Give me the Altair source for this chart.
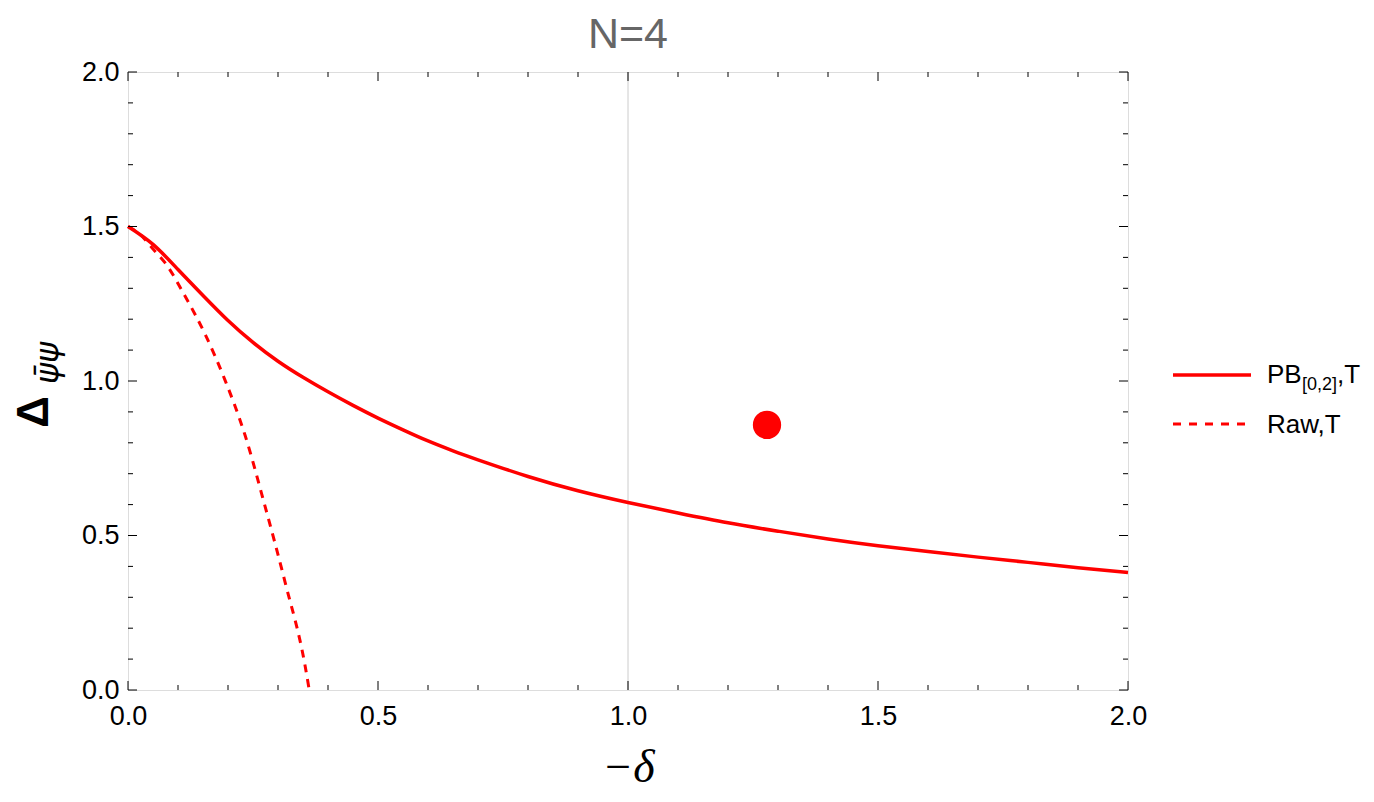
import altair as alt
import pandas as pd

# ---- data ----
pb_x = [0.0, 0.05, 0.1, 0.15, 0.2, 0.25, 0.3, 0.35, 0.4, 0.45, 0.5, 0.55, 0.6,
        0.65, 0.7, 0.8, 0.9, 1.0, 1.1, 1.2, 1.3, 1.4, 1.5, 1.6, 1.7, 1.8, 1.9, 2.0]
pb_y = [1.5, 1.442, 1.361, 1.277, 1.196, 1.125, 1.064, 1.012, 0.965, 0.921, 0.880,
        0.842, 0.806, 0.774, 0.745, 0.691, 0.645, 0.607, 0.573, 0.541, 0.514,
        0.489, 0.467, 0.448, 0.430, 0.413, 0.396, 0.380]

raw_x = [0.0, 0.02, 0.054, 0.074, 0.114, 0.154, 0.194, 0.234, 0.274, 0.314, 0.354, 0.3625]
raw_y = [1.5, 1.48, 1.42, 1.383, 1.275, 1.152, 1.003, 0.825, 0.595, 0.350, 0.080, 0.0]

point_x = [1.278]
point_y = [0.858]

grid_x = [1.0]

major_ticks = [0.0, 0.5, 1.0, 1.5, 2.0]
minor_ticks = [round(0.1 * i, 1) for i in range(21) if i % 5 != 0]

title_text = "N=4"
x_title = "\u2212\u03b4"
y_title_main = "\u0394"
y_title_sub = "\u03c8\u0304\u03c8"
legend_labels = ["PB", "[0,2]", ",T", "Raw,T"]

RED = "#ff0000"
W, H = 1000, 618
FONT = "Liberation Sans"

pb_df = pd.DataFrame({"x": pb_x, "y": pb_y})
raw_df = pd.DataFrame({"x": raw_x, "y": raw_y})
pt_df = pd.DataFrame({"x": point_x, "y": point_y})
grid_df = pd.DataFrame({"x": grid_x})
xmaj = pd.DataFrame({"x": major_ticks})
xmin = pd.DataFrame({"x": minor_ticks})
ymaj = pd.DataFrame({"y": major_ticks})
ymin = pd.DataFrame({"y": minor_ticks})
one = pd.DataFrame({"k": [0]})

xscale = alt.Scale(domain=[0, 2], nice=False, zero=False)
yscale = alt.Scale(domain=[0, 2], nice=False, zero=False)

xaxis = alt.Axis(values=major_ticks, format=".1f", ticks=False, tickSize=0, domain=False,
                 grid=False, labelFontSize=27, labelFont=FONT, labelColor="black",
                 labelPadding=13, labelFlush=False, labelOverlap=False,
                 title=x_title, titleFont="Liberation Serif", titleFontSize=46,
                 titleFontStyle="italic", titleFontWeight="normal", titleColor="black",
                 titlePadding=16)
yaxis = alt.Axis(values=major_ticks, format=".1f", ticks=False, tickSize=0, domain=False,
                 grid=False, labelFontSize=27, labelFont=FONT, labelColor="black",
                 labelPadding=9, labelFlush=False, labelOverlap=False, title=None)

grid = alt.Chart(grid_df).mark_rule(color="#cccccc", strokeWidth=1).encode(
    x=alt.X("x:Q", scale=xscale, axis=xaxis), y=alt.value(0), y2=alt.value(H))

pb = alt.Chart(pb_df).mark_line(color=RED, strokeWidth=3.5, interpolate="natural").encode(
    x=alt.X("x:Q", scale=xscale, axis=xaxis), y=alt.Y("y:Q", scale=yscale, axis=yaxis))
raw = alt.Chart(raw_df).mark_line(color=RED, strokeWidth=3, strokeDash=[8, 7],
                                  interpolate="monotone").encode(
    x=alt.X("x:Q", scale=xscale, axis=xaxis), y=alt.Y("y:Q", scale=yscale, axis=yaxis))
pt = alt.Chart(pt_df).mark_circle(color=RED, opacity=1, size=800).encode(
    x=alt.X("x:Q", scale=xscale, axis=xaxis), y=alt.Y("y:Q", scale=yscale, axis=yaxis))

def xt(df, y0, y1):
    return alt.Chart(df).mark_rule(color="black", strokeWidth=1).encode(
        x=alt.X("x:Q", scale=xscale, axis=xaxis), y=alt.value(y0), y2=alt.value(y1))

def yt(df, x0, x1):
    return alt.Chart(df).mark_rule(color="black", strokeWidth=1).encode(
        y=alt.Y("y:Q", scale=yscale, axis=yaxis), x=alt.value(x0), x2=alt.value(x1))

ticks = [
    xt(xmaj, H, H - 9), xt(xmin, H, H - 5), xt(xmaj, 0, 9), xt(xmin, 0, 5),
    yt(ymaj, 0, 9), yt(ymin, 0, 5), yt(ymaj, W, W - 9), yt(ymin, W, W - 5),
]

# y-axis title: Delta with subscript
ytitle_main = alt.Chart(one).mark_text(text=y_title_main, font=FONT, fontSize=44,
                                       fontWeight="bold", angle=270, align="center",
                                       baseline="alphabetic", color="black").encode(
    x=alt.value(-80), y=alt.value(340))
ytitle_sub = alt.Chart(one).mark_text(text=y_title_sub, font="DejaVu Sans", fontSize=32,
                                      fontStyle="italic", angle=270, align="center",
                                      baseline="alphabetic", color="black").encode(
    x=alt.value(-70), y=alt.value(291))

# legend (custom, to carry the subscript)
leg_solid = alt.Chart(one).mark_rule(color=RED, strokeWidth=3.5).encode(
    x=alt.value(1045), x2=alt.value(1123), y=alt.value(303))
leg_dash = alt.Chart(one).mark_rule(color=RED, strokeWidth=3, strokeDash=[8, 8]).encode(
    x=alt.value(1045), x2=alt.value(1123), y=alt.value(352))
leg_t1 = alt.Chart(one).mark_text(text=legend_labels[0], font=FONT, fontSize=26,
                                  align="left", baseline="alphabetic", color="black").encode(
    x=alt.value(1139), y=alt.value(311))
leg_t2 = alt.Chart(one).mark_text(text=legend_labels[1], font=FONT, fontSize=18,
                                  align="left", baseline="alphabetic", color="black").encode(
    x=alt.value(1174), y=alt.value(318))
leg_t3 = alt.Chart(one).mark_text(text=legend_labels[2], font=FONT, fontSize=26,
                                  align="left", baseline="alphabetic", color="black").encode(
    x=alt.value(1209), y=alt.value(311))
leg_t4 = alt.Chart(one).mark_text(text=legend_labels[3], font=FONT, fontSize=26,
                                  align="left", baseline="alphabetic", color="black").encode(
    x=alt.value(1139), y=alt.value(361))

chart = alt.layer(
    grid, pb, raw, pt, *ticks, ytitle_main, ytitle_sub,
    leg_solid, leg_dash, leg_t1, leg_t2, leg_t3, leg_t4,
).properties(
    width=W, height=H,
    title=alt.TitleParams(text=title_text, font=FONT, fontSize=43, fontWeight="normal",
                          color="#666666", anchor="middle", offset=1),
    autosize=alt.AutoSizeParams(type="none"),
    padding={"left": 120, "top": 64, "right": 238, "bottom": 100},
).configure_view(stroke="black", strokeWidth=1).configure(background="white")

chart.save("out.html", embed_options={"renderer": "svg", "actions": False})
